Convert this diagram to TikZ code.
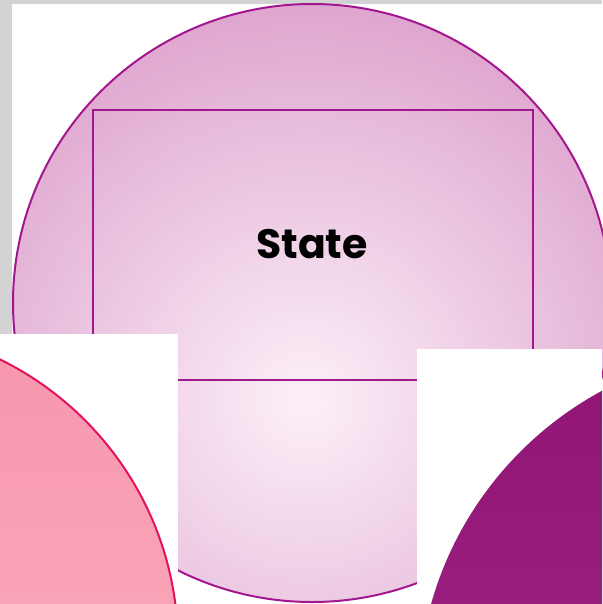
\documentclass[tikz,border=0pt]{standalone}
\usepackage{fontspec}
\setmainfont{Poppins}
\definecolor{bggray}{RGB}{211,211,211}
\definecolor{rim}{RGB}{162,22,142}
\definecolor{mainin}{RGB}{252,240,248}
\definecolor{mainout}{RGB}{222,164,206}
\definecolor{pinktop}{RGB}{247,150,172}
\definecolor{pinkbot}{RGB}{252,180,196}
\definecolor{pinkrim}{RGB}{226,18,92}
\definecolor{purtop}{RGB}{144,20,116}
\definecolor{purbot}{RGB}{166,44,140}
\tikzset{
  rimline/.style={draw=rim, line width=2pt},
  statebox/.style={draw=rim, line width=1.5pt, minimum width=440pt, minimum height=270pt, inner sep=0pt},
  statetext/.style={font=\fontsize{41}{48}\selectfont\bfseries, text=black, inner sep=0pt}
}
\begin{document}
\begin{tikzpicture}[x=1pt,y=-1pt]
\useasboundingbox (0,0) rectangle (602,604);
\fill[bggray] (0,0) rectangle (602,604);
\fill[white] (12,4) rectangle (602,604);
% main circle
\coordinate (mc) at (312,303);
\begin{scope}
  \clip (mc) circle (299);
  \fill[mainout] (mc) circle (300);
  \shade[inner color=mainin, outer color=mainout] (305,400) circle (405);
\end{scope}
\draw[rimline] (mc) circle (299);
\node[statebox] (box) at (313,245) {};
\node[statetext] (lbl) at (312,244) {State};
% bottom-left panel
\fill[white] (0,334) rectangle (178,604);
\begin{scope}
  \clip (0,334) rectangle (178,604);
  \coordinate (pc) at (-140,645);
  \shade[top color=pinktop, bottom color=pinkbot] (pc) circle (318);
  \draw[pinkrim, line width=2pt] (pc) circle (318);
\end{scope}
% bottom-right panel
\fill[white] (417,349) rectangle (602,604);
\begin{scope}
  \clip (417,349) rectangle (602,604);
  \coordinate (qc) at (768,699);
  \shade[top color=purtop, bottom color=purbot] (qc) circle (350);
\end{scope}
\end{tikzpicture}
\end{document}
